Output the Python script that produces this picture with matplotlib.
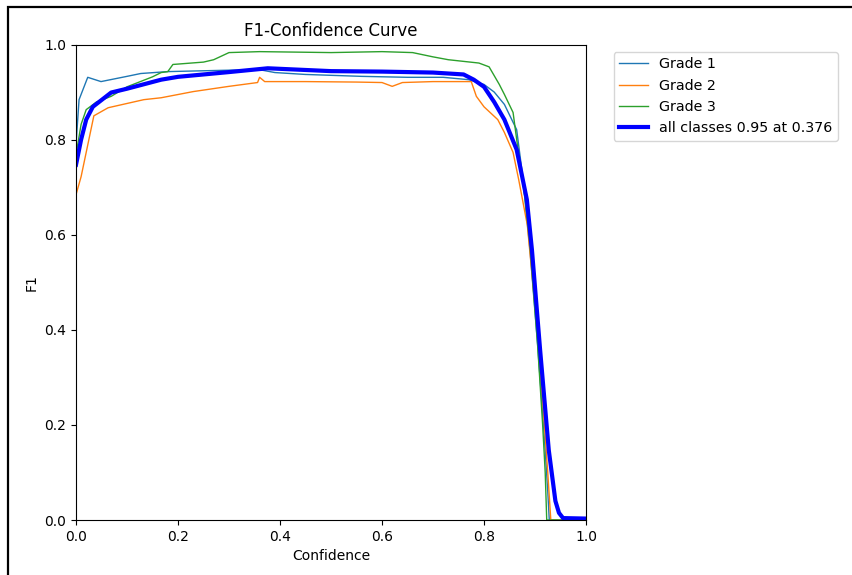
import matplotlib
matplotlib.use("Agg")
import matplotlib.pyplot as plt
from matplotlib.patches import Rectangle

# values (confidence, F1)
grade1_x = [0.0, 0.006, 0.023, 0.049, 0.10, 0.127, 0.18, 0.30, 0.36, 0.39, 0.45, 0.56, 0.65, 0.72,
            0.77, 0.80, 0.82, 0.84, 0.864, 0.875, 0.89, 0.905, 0.918, 0.925, 0.928, 1.0]
grade1_y = [0.789, 0.884, 0.931, 0.922, 0.933, 0.939, 0.943, 0.946, 0.947, 0.941, 0.937, 0.933, 0.931, 0.931,
            0.926, 0.916, 0.900, 0.874, 0.821, 0.73, 0.57, 0.37, 0.18, 0.06, 0.0, 0.0]

grade2_x = [0.0, 0.01, 0.035, 0.063, 0.133, 0.167, 0.23, 0.30, 0.356, 0.36, 0.37, 0.45, 0.55, 0.60,
            0.62, 0.64, 0.70, 0.775, 0.785, 0.80, 0.827, 0.84, 0.857, 0.868, 0.885, 0.90,
            0.915, 0.925, 0.931, 1.0]
grade2_y = [0.684, 0.722, 0.850, 0.867, 0.884, 0.888, 0.901, 0.912, 0.920, 0.931, 0.922, 0.922, 0.921, 0.920,
            0.912, 0.920, 0.922, 0.922, 0.891, 0.869, 0.842, 0.815, 0.773, 0.716, 0.62, 0.45,
            0.25, 0.10, 0.0, 0.0]

grade3_x = [0.0, 0.01, 0.02, 0.04, 0.069, 0.10, 0.15, 0.167, 0.18, 0.19, 0.25, 0.27, 0.30, 0.36, 0.50,
            0.60, 0.66, 0.70, 0.73, 0.79, 0.81, 0.83, 0.84, 0.857, 0.866, 0.88, 0.89, 0.905,
            0.915, 0.92, 0.923, 1.0]
grade3_y = [0.768, 0.832, 0.863, 0.879, 0.891, 0.911, 0.932, 0.941, 0.943, 0.958, 0.963, 0.968, 0.983, 0.985, 0.983,
            0.985, 0.983, 0.974, 0.968, 0.961, 0.953, 0.916, 0.895, 0.857, 0.785, 0.68, 0.58, 0.37,
            0.20, 0.10, 0.0, 0.0]

all_x = [0.0, 0.01, 0.02, 0.033, 0.069, 0.10, 0.167, 0.20, 0.30, 0.376, 0.50, 0.60, 0.70, 0.76,
         0.78, 0.80, 0.82, 0.84, 0.864, 0.884, 0.894, 0.910, 0.927, 0.940, 0.947, 0.955, 1.0]
all_y = [0.747, 0.800, 0.842, 0.869, 0.899, 0.907, 0.926, 0.932, 0.942, 0.95, 0.944, 0.943, 0.941, 0.937,
         0.926, 0.911, 0.879, 0.842, 0.779, 0.674, 0.568, 0.358, 0.147, 0.04, 0.015, 0.004, 0.003]

labels = ["Grade 1", "Grade 2", "Grade 3", "all classes 0.95 at 0.376"]

fig = plt.figure(figsize=(8.53, 5.75), dpi=100)
ax = fig.add_axes([76 / 853, 55 / 575, 510 / 853, 475.5 / 575])

ax.plot(grade1_x, grade1_y, linewidth=1, color="#1f77b4", label=labels[0])
ax.plot(grade2_x, grade2_y, linewidth=1, color="#ff7f0e", label=labels[1])
ax.plot(grade3_x, grade3_y, linewidth=1, color="#2ca02c", label=labels[2])
ax.plot(all_x, all_y, linewidth=3, color="blue", label=labels[3])

ax.set_xlim(0, 1)
ax.set_ylim(0, 1)
ax.set_xlabel("Confidence")
ax.set_ylabel("F1")
ax.set_title("F1-Confidence Curve", fontsize=12)
ax.legend(bbox_to_anchor=(1.04, 1), loc="upper left", fontsize=10.3)

# outer frame (only left and top edges show in the reference)
fig.patches.append(Rectangle((8 / 853, -0.1), 1.2, 1.1 - 7 / 575, transform=fig.transFigure,
                             fill=False, edgecolor="black", linewidth=1.6, clip_on=False))

plt.savefig("out.png", dpi=100)
print("Saved: out.png")
